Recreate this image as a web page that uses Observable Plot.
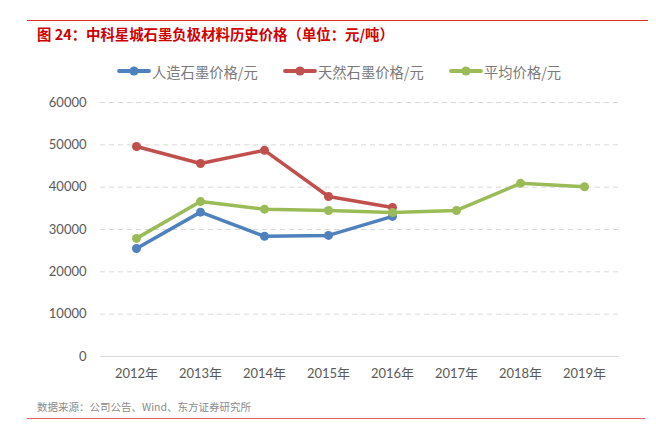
<!DOCTYPE html>
<html><head><meta charset="utf-8">
<script src="https://cdn.jsdelivr.net/npm/d3@7"></script>
<script src="https://cdn.jsdelivr.net/npm/@observablehq/plot@0.6"></script>
<style>
body{margin:0;background:#fff;font-family:Lato,"Noto Sans CJK SC",sans-serif;}
#wrap{position:relative;width:656px;height:425px;overflow:hidden;}
.topline{position:absolute;left:27px;top:19.5px;width:621px;height:0;border-top:1.5px solid #e03030;}
.botline{position:absolute;left:27px;top:418px;width:618px;height:0;border-top:1.5px solid #e06060;}
#title{position:absolute;left:37px;top:24px;font-size:14.4px;line-height:20px;font-weight:bold;color:#d00000;font-family:"Noto Sans CJK SC",sans-serif;white-space:nowrap;}
#legend{position:absolute;left:0;top:61px;width:656px;height:20px;}
.li{position:absolute;top:0;height:20px;display:flex;align-items:center;font-size:14.3px;color:#7a7a7a;white-space:nowrap;font-family:"Noto Sans CJK SC",sans-serif;}
#chart{position:absolute;left:0;top:90px;}
#caption{position:absolute;left:37px;top:399px;font-size:10.5px;color:#8c8c8c;font-family:"Noto Sans CJK SC",sans-serif;white-space:nowrap;}
</style></head>
<body><div id="wrap">
<div class="topline"></div>
<div id="title">图 24：中科星城石墨负极材料历史价格（单位：元/吨）</div>
<div id="legend"></div>
<div id="chart"></div>
<div id="caption">数据来源：公司公告、Wind、东方证券研究所</div>
<div class="botline"></div>
</div>
<script>
const years = ["2012年","2013年","2014年","2015年","2016年","2017年","2018年","2019年"];
const seriesNames = ["人造石墨价格/元","天然石墨价格/元","平均价格/元"];
const colors = ["#4f81bd","#c0504d","#9bbb59"];
const artificial = [25500, 34100, 28400, 28600, 33100, null, null, null];
const natural = [49600, 45600, 48700, 37800, 35200, null, null, null];
const average = [27900, 36600, 34800, 34500, 34000, 34500, 40900, 40100];
const yTicks = [0, 10000, 20000, 30000, 40000, 50000, 60000];

const values = [artificial, natural, average];
const data = [];
values.forEach((arr, si) => arr.forEach((v, i) => { if (v != null) data.push({year: years[i], value: v, series: seriesNames[si]}); }));

// legend
const legend = document.getElementById("legend");
const legendX = [117, 283, 449];
seriesNames.forEach((n, i) => {
  const d = document.createElement("div");
  d.className = "li";
  d.style.left = legendX[i] + "px";
  d.innerHTML = `<svg width="34" height="20" style="margin-right:1px"><line x1="2" x2="32" y1="10" y2="10" stroke="${colors[i]}" stroke-width="3.8" stroke-linecap="round"/><circle cx="17" cy="10" r="4.6" fill="${colors[i]}"/></svg><span>${n}</span>`;
  legend.appendChild(d);
});

const chart = Plot.plot({
  width: 656,
  height: 300,
  marginLeft: 100,
  marginRight: 37,
  marginTop: 12,
  marginBottom: 34,
  style: {fontFamily: 'Lato,"Noto Sans CJK SC",sans-serif', fontSize: "13px", color: "#595959", background: "#fff"},
  x: {type: "point", domain: years, padding: 0.5, label: null, tickSize: 0, tickPadding: 12},
  y: {domain: [0, 60000], ticks: yTicks, tickFormat: d => String(d), label: null, tickSize: 0, tickPadding: 14},
  color: {domain: seriesNames, range: colors},
  marks: [
    Plot.ruleY(yTicks.filter(t => t > 0), {stroke: "#d9d9d9", strokeDasharray: "5,4", strokeWidth: 1}),
    Plot.ruleY([0], {stroke: "#d9d9d9", strokeWidth: 1.2}),
    Plot.line(data, {x: "year", y: "value", stroke: "series", z: "series", strokeWidth: 3.5, strokeLinejoin: "round"}),
    Plot.dot(data, {x: "year", y: "value", fill: "series", r: 4.5})
  ]
});
document.getElementById("chart").appendChild(chart);
</script>
</body></html>
